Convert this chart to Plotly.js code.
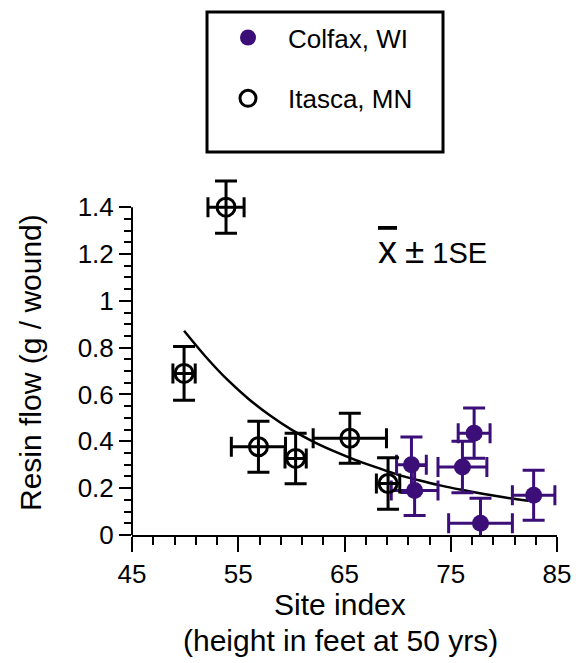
<!DOCTYPE html>
<html>
<head>
<meta charset="utf-8">
<script src="https://cdn.plot.ly/plotly-3.0.1.min.js"></script>
<style>
  html, body { margin: 0; padding: 0; background: #fff; }
  #chart { width: 576px; height: 663px; }
</style>
</head>
<body>
<div id="chart"></div>
<script>
// ---- data ----
const colfaxX    = [71.3, 71.6, 76.1, 77.2, 77.8, 82.8];
const colfaxY    = [0.30, 0.19, 0.29, 0.435, 0.05, 0.17];
const colfaxXErr = [1.4, 2.2, 2.3, 1.5, 3.0, 2.0];
const colfaxYErr = [0.118, 0.107, 0.11, 0.107, 0.107, 0.107];

const itascaX    = [49.9, 53.85, 56.9, 60.4, 65.5, 69.1];
const itascaY    = [0.69, 1.40, 0.377, 0.327, 0.413, 0.22];
const itascaXErr = [1.05, 1.7, 2.55, 1.0, 3.45, 1.1];
const itascaYErr = [0.115, 0.112, 0.109, 0.108, 0.107, 0.11];

// fitted curve
const fitX = [49.9, 52, 54, 56, 58, 60, 62, 64, 66, 68, 70, 72, 74, 76, 78, 80, 82.3];
const fitY = [0.872, 0.758, 0.662, 0.58, 0.51, 0.45, 0.40, 0.358, 0.321, 0.289, 0.258, 0.234, 0.212, 0.193, 0.176, 0.161, 0.146];

const xTicks = [45, 55, 65, 75, 85];
const yTicks = [0, 0.2, 0.4, 0.6, 0.8, 1, 1.2, 1.4];

const seriesNames = ['Colfax, WI', 'Itasca, MN'];
const purple = '#3c0f78';
const FONT = 'Liberation Sans, Arial, Helvetica, sans-serif';

const yAxisMax = 1.4;      // drawn axis ends here
const yDataMax = 1.55;     // head-room so the top error bar is not clipped

// minor y ticks every 0.05 up to the end of the drawn axis
const yMinor = [];
for (let i = 1; i * 0.05 < yAxisMax - 1e-9; i++) {
  if (i % 4 !== 0) yMinor.push(+(i * 0.05).toFixed(2));
}

const traces = [
  {
    type: 'scatter', mode: 'lines', name: 'fit', showlegend: false,
    x: fitX, y: fitY, cliponaxis: false,
    line: { color: '#000', width: 2.5, shape: 'spline' }
  },
  {
    type: 'scatter', mode: 'markers', name: seriesNames[0], legendgroup: 'a',
    x: colfaxX, y: colfaxY, cliponaxis: false,
    marker: { symbol: 'circle', size: 17, color: purple },
    error_x: { type: 'data', array: colfaxXErr, visible: true, color: purple, thickness: 3, width: 10 },
    error_y: { type: 'data', array: colfaxYErr, visible: true, color: purple, thickness: 3, width: 11 }
  },
  {
    type: 'scatter', mode: 'markers', name: seriesNames[1], legendgroup: 'b',
    x: itascaX, y: itascaY, cliponaxis: false,
    marker: { symbol: 'circle-open', size: 18, color: '#000', line: { width: 3, color: '#000' } },
    error_x: { type: 'data', array: itascaXErr, visible: true, color: '#000', thickness: 3, width: 10 },
    error_y: { type: 'data', array: itascaYErr, visible: true, color: '#000', thickness: 3, width: 11 }
  }
];

const layout = {
  width: 576, height: 663, autosize: false,
  margin: { l: 132, r: 19, t: 172, b: 128, pad: 0 },
  paper_bgcolor: '#fff', plot_bgcolor: '#fff',
  font: { family: FONT, color: '#000', size: 26 },
  showlegend: true,
  legend: {
    x: 0.1788, y: 1.435, xanchor: 'left', yanchor: 'top',
    bgcolor: 'rgba(0,0,0,0)', borderwidth: 0, itemwidth: 70,
    font: { family: FONT, size: 26, color: '#000' },
    traceorder: 'grouped', tracegroupgap: 24
  },
  xaxis: {
    range: [45, 85], tickvals: xTicks, ticktext: xTicks.map(String),
    ticks: 'outside', ticklen: 15, tickwidth: 2, tickcolor: '#000',
    showline: true, linewidth: 2, linecolor: '#000',
    showgrid: false, zeroline: false,
    tickfont: { family: FONT, size: 26, color: '#000' },
    minor: { dtick: 2, tick0: 45, ticks: 'outside', ticklen: 8, tickwidth: 2, tickcolor: '#000', showgrid: false }
  },
  yaxis: {
    range: [0, yDataMax], tickvals: yTicks, ticktext: yTicks.map(String),
    ticks: 'outside', ticklen: 12, tickwidth: 2, tickcolor: '#000',
    showline: false, showgrid: false, zeroline: false,
    tickfont: { family: FONT, size: 26, color: '#000' },
    minor: { tickvals: yMinor, ticks: 'outside', ticklen: 7, tickwidth: 2, tickcolor: '#000', showgrid: false }
  },
  shapes: [
    // legend frame
    { type: 'rect', xref: 'paper', yref: 'paper', x0: 0.1765, x1: 0.7318, y0: 1.0551, y1: 1.4408,
      line: { color: '#000', width: 3 }, fillcolor: 'rgba(0,0,0,0)' },
    // y axis line, ending at 1.4
    { type: 'line', xref: 'paper', yref: 'y', x0: 0, x1: 0, y0: 0, y1: yAxisMax,
      line: { color: '#000', width: 2 } }
  ],
  annotations: [
    { text: 'Site index', xref: 'paper', yref: 'paper', x: 0.49, y: -0.1901,
      xanchor: 'center', yanchor: 'middle', showarrow: false, font: { family: FONT, size: 30, color: '#000' } },
    { text: '(height in feet at 50 yrs)', xref: 'paper', yref: 'paper', x: 0.49, y: -0.292,
      xanchor: 'center', yanchor: 'middle', showarrow: false, font: { family: FONT, size: 30, color: '#000' } },
    { text: 'Resin flow (g / wound)', xref: 'paper', yref: 'paper', x: -0.24, y: 0.4738, textangle: -90,
      xanchor: 'center', yanchor: 'middle', showarrow: false, font: { family: FONT, size: 30, color: '#000' } },
    { text: '<span style="font-size:38px;text-decoration:overline">x</span> <span style="font-size:35px">\u00B1</span> 1SE',
      xref: 'paper', yref: 'paper', x: 0.706, y: 0.785,
      xanchor: 'center', yanchor: 'middle', showarrow: false, font: { family: FONT, size: 29, color: '#000' } }
  ]
};

Plotly.newPlot('chart', traces, layout, { displayModeBar: false, staticPlot: true });
</script>
</body>
</html>
